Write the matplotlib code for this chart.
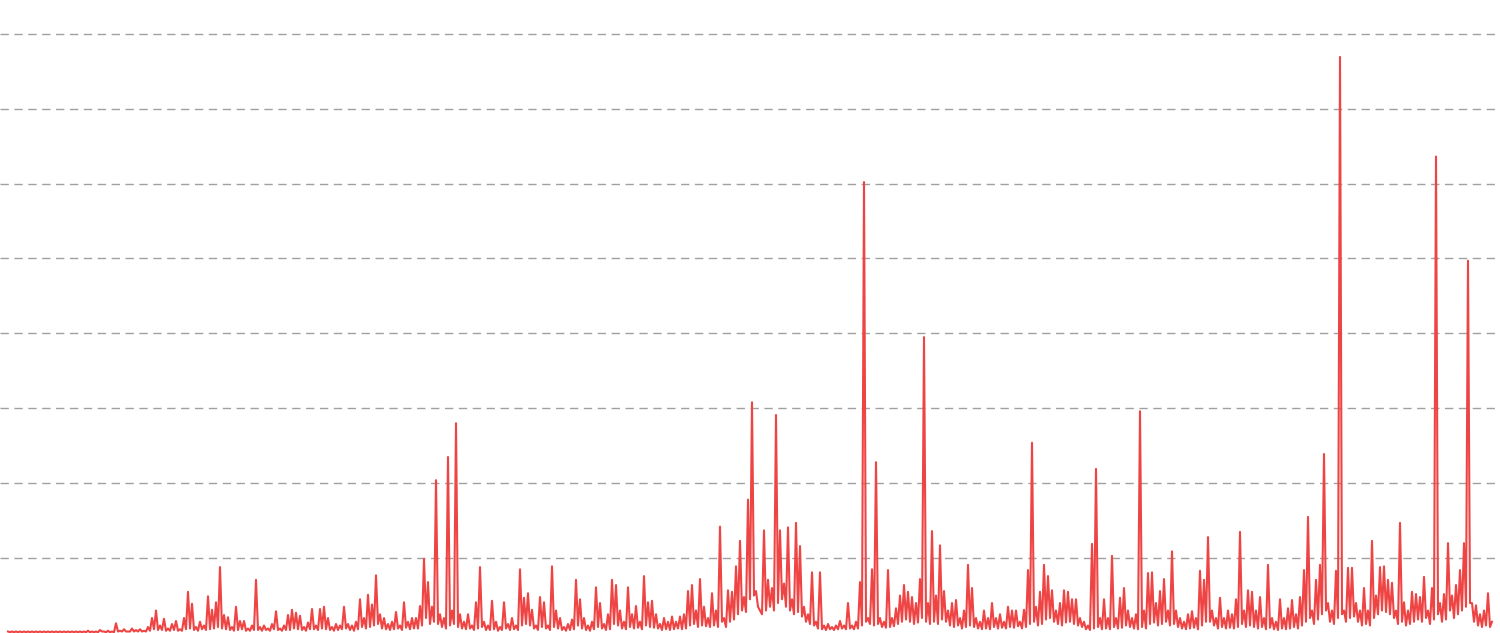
import matplotlib
matplotlib.use("Agg")
import matplotlib.pyplot as plt
import numpy as np

# daily peak values (one entry per sample)
counts = [
    0.02, 0.02, 0.02, 0.02, 0.02, 0.02, 0.02, 0.02, 0.02, 0.02,
    0.02, 0.02, 0.02, 0.02, 0.02, 0.02, 0.02, 0.02, 0.02, 0.02,
    0.03, 0.02, 0.02, 0.04, 0.02, 0.03, 0.02, 0.13, 0.03, 0.05,
    0.02, 0.06, 0.04, 0.05, 0.03, 0.08, 0.20, 0.30, 0.10, 0.19,
    0.06, 0.12, 0.16, 0.05, 0.20, 0.55, 0.39, 0.08, 0.15, 0.10,
    0.49, 0.31, 0.41, 0.88, 0.24, 0.21, 0.08, 0.35, 0.16, 0.16,
    0.06, 0.10, 0.71, 0.08, 0.10, 0.06, 0.12, 0.29, 0.06, 0.10,
    0.24, 0.31, 0.27, 0.23, 0.08, 0.14, 0.32, 0.10, 0.32, 0.35,
    0.20, 0.08, 0.12, 0.10, 0.35, 0.12, 0.10, 0.15, 0.45, 0.20,
    0.51, 0.38, 0.77, 0.25, 0.20, 0.12, 0.15, 0.28, 0.10, 0.41,
    0.15, 0.20, 0.20, 0.36, 0.99, 0.68, 0.35, 2.04, 0.25, 0.20,
    2.35, 0.30, 2.80, 0.25, 0.15, 0.25, 0.10, 0.41, 0.88, 0.15,
    0.10, 0.43, 0.15, 0.08, 0.41, 0.12, 0.20, 0.10, 0.85, 0.47,
    0.53, 0.31, 0.10, 0.48, 0.41, 0.10, 0.89, 0.30, 0.20, 0.08,
    0.12, 0.18, 0.71, 0.45, 0.20, 0.10, 0.15, 0.61, 0.40, 0.12,
    0.25, 0.71, 0.64, 0.30, 0.15, 0.61, 0.25, 0.36, 0.15, 0.76,
    0.41, 0.43, 0.25, 0.12, 0.20, 0.15, 0.22, 0.15, 0.22, 0.25,
    0.56, 0.64, 0.30, 0.72, 0.35, 0.20, 0.53, 0.30, 1.42, 0.20,
    0.57, 0.55, 0.89, 1.23, 0.48, 1.78, 3.08, 0.56, 0.30, 1.37,
    0.71, 0.60, 2.91, 1.37, 0.66, 1.41, 0.45, 1.47, 1.16, 0.35,
    0.25, 0.81, 0.15, 0.81, 0.10, 0.12, 0.08, 0.10, 0.16, 0.10,
    0.40, 0.10, 0.15, 0.68, 6.02, 0.20, 0.85, 2.28, 0.20, 0.15,
    0.84, 0.20, 0.33, 0.50, 0.64, 0.55, 0.48, 0.40, 0.72, 3.95,
    0.40, 1.36, 0.50, 1.17, 0.56, 0.30, 0.40, 0.44, 0.20, 0.30,
    0.91, 0.60, 0.20, 0.15, 0.30, 0.20, 0.40, 0.20, 0.25, 0.15,
    0.35, 0.30, 0.30, 0.15, 0.31, 0.84, 2.54, 0.35, 0.55, 0.91,
    0.76, 0.57, 0.30, 0.40, 0.57, 0.55, 0.45, 0.45, 0.20, 0.15,
    0.10, 1.19, 2.19, 0.20, 0.45, 0.20, 1.03, 0.20, 0.47, 0.60,
    0.30, 0.20, 0.25, 2.96, 0.30, 0.80, 0.81, 0.40, 0.56, 0.72,
    0.30, 1.09, 0.30, 0.20, 0.15, 0.25, 0.29, 0.20, 0.83, 0.71,
    1.28, 0.30, 0.20, 0.47, 0.20, 0.30, 0.25, 0.45, 1.35, 0.30,
    0.57, 0.55, 0.30, 0.48, 0.20, 0.91, 0.20, 0.15, 0.45, 0.20,
    0.33, 0.44, 0.25, 0.48, 0.84, 1.55, 0.30, 0.71, 0.91, 2.39,
    0.40, 0.30, 0.83, 7.69, 0.30, 0.87, 0.87, 0.40, 0.30, 0.60,
    0.30, 1.23, 0.50, 0.88, 0.89, 0.71, 0.67, 0.30, 1.47, 0.41,
    0.30, 0.55, 0.52, 0.48, 0.75, 0.30, 0.60, 6.36, 0.40, 0.52,
    1.20, 0.50, 0.64, 0.84, 1.20, 4.97, 0.40, 0.37, 0.25, 0.30,
    0.53, 0.15,
]
# low values between the samples above
troughs = [
    0.01, 0.01, 0.01, 0.01, 0.01, 0.01, 0.01, 0.01, 0.01, 0.01,
    0.01, 0.01, 0.01, 0.01, 0.01, 0.01, 0.01, 0.01, 0.01, 0.01,
    0.01, 0.01, 0.01, 0.02, 0.01, 0.01, 0.01, 0.02, 0.02, 0.02,
    0.02, 0.02, 0.02, 0.02, 0.02, 0.03, 0.05, 0.04, 0.04, 0.03,
    0.03, 0.04, 0.03, 0.03, 0.05, 0.06, 0.04, 0.03, 0.05, 0.04,
    0.05, 0.06, 0.08, 0.06, 0.05, 0.04, 0.03, 0.04, 0.05, 0.03,
    0.03, 0.04, 0.04, 0.03, 0.04, 0.03, 0.05, 0.04, 0.03, 0.04,
    0.04, 0.06, 0.05, 0.04, 0.03, 0.05, 0.05, 0.04, 0.06, 0.05,
    0.04, 0.03, 0.04, 0.05, 0.06, 0.04, 0.03, 0.05, 0.08, 0.06,
    0.08, 0.10, 0.12, 0.06, 0.05, 0.04, 0.05, 0.06, 0.04, 0.07,
    0.05, 0.06, 0.06, 0.10, 0.20, 0.12, 0.15, 0.12, 0.08, 0.06,
    0.10, 0.12, 0.08, 0.06, 0.05, 0.06, 0.04, 0.06, 0.08, 0.04,
    0.04, 0.05, 0.03, 0.04, 0.06, 0.04, 0.05, 0.04, 0.10, 0.12,
    0.10, 0.06, 0.04, 0.08, 0.06, 0.04, 0.08, 0.06, 0.04, 0.03,
    0.04, 0.05, 0.10, 0.06, 0.04, 0.03, 0.05, 0.08, 0.06, 0.04,
    0.05, 0.12, 0.10, 0.06, 0.05, 0.08, 0.06, 0.07, 0.05, 0.10,
    0.08, 0.07, 0.06, 0.04, 0.05, 0.04, 0.05, 0.06, 0.05, 0.06,
    0.10, 0.12, 0.08, 0.10, 0.09, 0.08, 0.10, 0.08, 0.15, 0.08,
    0.15, 0.18, 0.25, 0.30, 0.28, 0.45, 0.50, 0.35, 0.25, 0.30,
    0.35, 0.30, 0.40, 0.45, 0.35, 0.30, 0.25, 0.28, 0.22, 0.15,
    0.12, 0.10, 0.06, 0.05, 0.04, 0.05, 0.04, 0.05, 0.06, 0.05,
    0.06, 0.05, 0.06, 0.10, 0.15, 0.12, 0.10, 0.12, 0.08, 0.07,
    0.08, 0.09, 0.12, 0.15, 0.18, 0.15, 0.12, 0.14, 0.20, 0.15,
    0.12, 0.15, 0.12, 0.18, 0.15, 0.10, 0.08, 0.10, 0.06, 0.08,
    0.10, 0.08, 0.06, 0.05, 0.06, 0.05, 0.08, 0.06, 0.07, 0.06,
    0.08, 0.07, 0.09, 0.06, 0.08, 0.12, 0.15, 0.10, 0.12, 0.18,
    0.20, 0.15, 0.12, 0.10, 0.14, 0.15, 0.12, 0.10, 0.08, 0.05,
    0.04, 0.06, 0.08, 0.05, 0.06, 0.05, 0.08, 0.06, 0.07, 0.10,
    0.08, 0.06, 0.05, 0.08, 0.06, 0.12, 0.14, 0.10, 0.12, 0.15,
    0.10, 0.12, 0.08, 0.06, 0.05, 0.06, 0.07, 0.05, 0.10, 0.15,
    0.15, 0.10, 0.06, 0.08, 0.06, 0.07, 0.06, 0.08, 0.12, 0.08,
    0.10, 0.08, 0.06, 0.08, 0.05, 0.07, 0.05, 0.04, 0.06, 0.05,
    0.06, 0.08, 0.06, 0.10, 0.15, 0.20, 0.12, 0.18, 0.25, 0.30,
    0.15, 0.12, 0.20, 0.25, 0.15, 0.20, 0.22, 0.15, 0.10, 0.12,
    0.10, 0.20, 0.25, 0.30, 0.28, 0.25, 0.20, 0.12, 0.15, 0.10,
    0.12, 0.15, 0.18, 0.15, 0.20, 0.12, 0.18, 0.25, 0.15, 0.18,
    0.30, 0.20, 0.25, 0.30, 0.35, 0.40, 0.15, 0.10, 0.08, 0.10,
    0.08,
]
grid_levels = [1, 2, 3, 4, 5, 6, 7, 8]

series = []
for i, c in enumerate(counts):
    series.append(c)
    if i < len(troughs):
        series.append(troughs[i])
days = np.arange(len(series)) / 2

fig = plt.figure(figsize=(15, 6.33), dpi=100)
ax = fig.add_axes([0, 0, 1495 / 1500, 1])

ax.plot(days, series, color='#ef4444', linewidth=1.5)

ax.set_xlim(-2, 371.75)
ax.set_ylim(0, 8.45)
ax.set_yticks(grid_levels)
ax.set_xticks([])
ax.yaxis.grid(True, linestyle=(0, (6, 4)), color='#a0a0a0', linewidth=1)
ax.set_axisbelow(True)
ax.tick_params(left=False, labelleft=False)
for s in ax.spines.values():
    s.set_visible(False)

fig.savefig('out.png', dpi=100)
